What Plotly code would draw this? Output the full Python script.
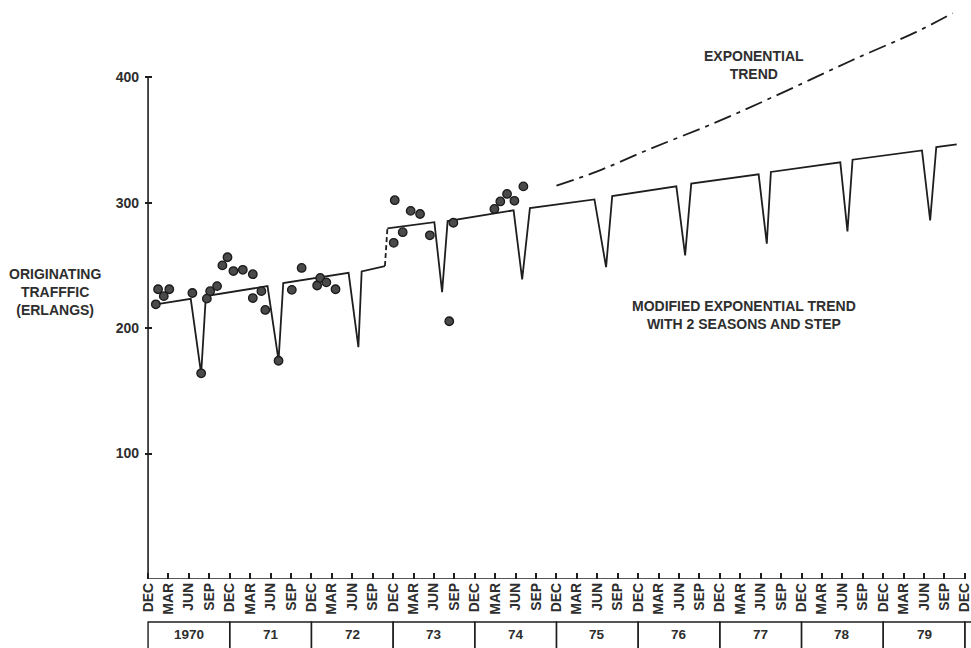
import plotly.graph_objects as go

# Quarter index: 0 = December 1969, 40 = December 1979
tick_labels = ["DEC", "MAR", "JUN", "SEP"] * 10 + ["DEC"]
year_labels = ["1970", "71", "72", "73", "74", "75", "76", "77", "78", "79"]

# Observed originating traffic (erlangs)
obs_q = [0.38, 0.49, 0.77, 1.04, 2.17, 2.60, 2.88, 3.04, 3.38, 3.64, 3.89, 4.18,
         4.64, 5.13, 5.13, 5.55, 5.74, 6.39, 7.04, 7.52, 8.28, 8.43, 8.73, 9.18,
         12.03, 12.08, 12.47, 12.86, 13.32, 13.80, 14.75, 14.95,
         16.96, 17.25, 17.58, 17.94, 18.38]
obs_v = [219, 231, 225.5, 231, 228, 164, 223.5, 229.5, 233.5, 250, 256.5, 245.5,
         246.5, 243, 224, 229.5, 214.5, 174, 230.5, 248, 234, 240, 236.5, 231,
         268, 302, 276.5, 293.5, 291, 274, 205.5, 284,
         295, 301, 307, 301.5, 313]

# Modified exponential trend with two seasons, before the step
model_a_q = [0.38, 2.09, 2.60, 2.83, 5.85, 6.39, 6.62, 9.82, 10.30, 10.46, 11.60]
model_a_v = [219, 223.4, 163.6, 225.5, 233.5, 174.2, 235.9, 244.1, 184.8, 245.2, 249.5]

# The step itself
step_q = [11.60, 11.72]
step_v = [249.5, 279.6]

# Modified exponential trend after the step
model_b_q = [11.72, 14.02, 14.40, 14.67, 17.90, 18.32, 18.70, 21.86, 22.43, 22.73,
             25.87, 26.30, 26.60, 29.90, 30.30, 30.50, 33.90, 34.25, 34.50,
             37.90, 38.30, 38.60, 39.60]
model_b_v = [279.6, 284.5, 228.7, 285.3, 293.9, 238.8, 295.7, 302.6, 248.6, 305.3,
             313, 258, 315.2, 322.6, 267.3, 324.5, 332.2, 277.1, 334.3,
             341.7, 285.9, 344.4, 346.5]

# Plain exponential trend
exp_q = [20.0, 22.0, 24.6, 27.8, 31.1, 34.4, 37.6, 39.4]
exp_v = [313.6, 325, 343, 364, 388, 413, 436, 451]

FONT = "Liberation Sans, Arial, sans-serif"
INK = "#1e1e1e"
TXT = "#2e2e2e"

fig = go.Figure()

line_style = dict(color=INK, width=1.8)
fig.add_trace(go.Scatter(x=model_a_q, y=model_a_v, mode="lines", line=line_style,
                         hoverinfo="skip"))
fig.add_trace(go.Scatter(x=step_q, y=step_v, mode="lines",
                         line=dict(color=INK, width=1.8, dash="5px,3px"),
                         hoverinfo="skip"))
fig.add_trace(go.Scatter(x=model_b_q, y=model_b_v, mode="lines", line=line_style,
                         hoverinfo="skip"))
fig.add_trace(go.Scatter(x=exp_q, y=exp_v, mode="lines", line_shape="spline",
                         line=dict(color=INK, width=1.8, dash="18px,6px,4px,6px"),
                         hoverinfo="skip"))
fig.add_trace(go.Scatter(x=obs_q, y=obs_v, mode="markers",
                         marker=dict(size=8.5, color="#4a4a4a",
                                     line=dict(color="#1a1a1a", width=1.3))))

shapes = []
# axis lines
shapes.append(dict(type="line", xref="x", yref="y", x0=0, x1=0, y0=0, y1=400,
                   line=dict(color=INK, width=1.6)))
shapes.append(dict(type="line", xref="x", yref="y", x0=0, x1=40, y0=0, y1=0,
                   line=dict(color=INK, width=1.6)))
# year boxes below the month labels
for i in range(len(year_labels) + 1):
    shapes.append(dict(type="rect", xref="x", yref="paper",
                       x0=4 * i, x1=4 * i + 4, y0=-0.0745, y1=-0.2,
                       line=dict(color=INK, width=1.4)))

annotations = []
for i, lab in enumerate(year_labels):
    annotations.append(dict(x=4 * i + 2, y=-0.097, xref="x", yref="paper",
                            text=lab, showarrow=False, yanchor="middle",
                            font=dict(family=FONT, size=13.5, color=TXT, weight=700)))

annotations.append(dict(x=-0.109, y=0.498, xref="paper", yref="paper",
                        text="ORIGINATING<br>TRAFFFIC<br>(ERLANGS)", showarrow=False,
                        align="center", xanchor="center", yanchor="middle",
                        font=dict(family=FONT, size=14, color=TXT, weight=700)))
annotations.append(dict(x=29.65, y=409.8, xref="x", yref="y",
                        text="EXPONENTIAL<br>TREND", showarrow=False, align="center",
                        font=dict(family=FONT, size=14, color=TXT, weight=700)))
annotations.append(dict(x=29.18, y=210.5, xref="x", yref="y",
                        text="MODIFIED EXPONENTIAL TREND<br>WITH 2 SEASONS AND STEP",
                        showarrow=False, align="center",
                        font=dict(family=FONT, size=14, color=TXT, weight=700)))

fig.update_layout(
    width=971, height=648,
    margin=dict(l=145, r=0, t=2, b=69),
    paper_bgcolor="white", plot_bgcolor="white",
    showlegend=False,
    shapes=shapes, annotations=annotations,
    xaxis=dict(range=[-0.15, 40.3], showgrid=False, zeroline=False, showline=False,
               tickmode="array", tickvals=list(range(41)), ticktext=tick_labels,
               ticks="inside", ticklen=6, tickwidth=1.5, tickcolor=INK,
               tickangle=-90, ticklabeloverflow="allow",
               tickfont=dict(family=FONT, size=14, color=TXT, weight=700)),
    yaxis=dict(range=[0, 460], showgrid=False, zeroline=False, showline=False,
               tickmode="array", tickvals=[100, 200, 300, 400],
               ticks="inside", ticklen=7, tickwidth=1.5, tickcolor=INK,
               ticklabelstandoff=5,
               tickfont=dict(family=FONT, size=14, color=TXT, weight=700)),
)

fig.write_html("out.html")
